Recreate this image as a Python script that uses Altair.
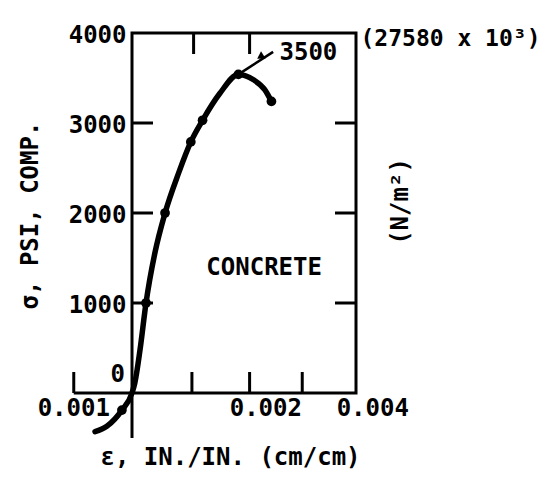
import altair as alt
import pandas as pd

# ---------------- data ----------------
curve_strain = [-0.66, -0.45, -0.18, 0.0, 0.05, 0.143, 0.25, 0.41, 0.59, 0.83, 1.05, 1.26, 1.57, 1.9, 2.17, 2.37, 2.49]
curve_stress = [-430, -370, -190, 0, 110, 478, 1000, 1560, 2000, 2440, 2790, 3030, 3330, 3540, 3480, 3370, 3240]

dot_strain = [-0.18, 0.25, 0.59, 1.05, 1.26, 1.9, 2.49]
dot_stress = [-190, 1000, 2000, 2790, 3030, 3540, 3240]

leader_strain = [1.9, 2.52]
leader_stress = [3540, 3790]
arrow_strain = [2.29]
arrow_stress = [3735]

y_label_values = [1000, 2000, 3000, 4000]
y_tick_values = [1000, 2000, 3000]
right_label_value = [4000]
right_label_text = "(27580 x 10³)"

x_tick_bottom = [-1.04, 1.07, 2.1, 3.04]
x_tick_top = [1.1, 2.1]
x_label_pos = [-1.04, 2.39, 4.3]
x_label_text = ["0.001", "0.002", "0.004"]
zero_label = ["0"]

y_axis_lowest = -500

concrete_text = ["CONCRETE"]
concrete_strain = [2.36]
concrete_stress = [1390]

peak_text = ["3500"]
peak_text_strain = [3.15]
peak_text_stress = [3780]

# ---------------- layout / style ----------------
X_MIN, X_MAX = 0, 4
Y_MIN, Y_MAX = 0, 4000
W, H = 224, 360
TICK_PX = 21
FONT = "DejaVu Sans Mono"
FS = 24
INK = "black"

du = TICK_PX * (X_MAX - X_MIN) / W
dv = TICK_PX * (Y_MAX - Y_MIN) / H

xs = alt.Scale(domain=[X_MIN, X_MAX], nice=False, zero=False)
ys = alt.Scale(domain=[Y_MIN, Y_MAX], nice=False, zero=False)

x_axis = alt.Axis(orient="bottom", labels=False, ticks=False, domain=False, grid=False,
                  title="ε, IN./IN. (cm/cm)", titleFont=FONT, titleFontSize=FS,
                  titleFontWeight="bold", titleColor=INK, titleX=98, titleY=64,
                  titleAlign="center", titleBaseline="middle", titleLimit=600)

y_axis_left = alt.Axis(orient="left", values=y_label_values, format="d", domain=False,
                       ticks=False, grid=False, labelFont=FONT, labelFontSize=FS,
                       labelFontWeight="bold", labelColor=INK, labelPadding=6,
                       labelFlush=False, labelOffset=2, labelBaseline="middle", labelLimit=400,
                       title="σ, PSI, COMP.", titleFont=FONT, titleFontSize=FS,
                       titleFontWeight="bold", titleColor=INK, titleX=-102, titleY=182,
                       titleAngle=270, titleAlign="center", titleBaseline="middle",
                       titleLimit=600)

y_axis_right = alt.Axis(orient="right", values=right_label_value,
                        labelExpr="'" + right_label_text + "'", domain=False, ticks=False,
                        grid=False, labelFont=FONT, labelFontSize=23, labelFontWeight="bold",
                        labelColor=INK, labelPadding=4, labelFlush=False, labelOffset=5,
                        labelAlign="left", labelBaseline="middle", labelLimit=600,
                        title="(N/m²)", titleFont=FONT, titleFontSize=FS,
                        titleFontWeight="bold", titleColor=INK, titleX=44, titleY=168,
                        titleAngle=270, titleAlign="center", titleBaseline="middle",
                        titleLimit=600)


def X(field):
    return alt.X(field, type="quantitative", scale=xs, axis=x_axis)


def Y(field, axis=None):
    return alt.Y(field, type="quantitative", scale=ys, axis=axis)


# ---------------- frame extensions and inward ticks ----------------
seg = {"x1": [], "x2": [], "y1": [], "y2": []}


def add(a, b, c, d):
    seg["x1"].append(a); seg["x2"].append(b); seg["y1"].append(c); seg["y2"].append(d)


add(x_tick_bottom[0], 0, 0, 0)              # x axis running left of the y axis
add(0, 0, 0, y_axis_lowest)                 # y axis running below the x axis
for u in x_tick_bottom:
    add(u, u, 0, dv)
for u in x_tick_top:
    add(u, u, Y_MAX, Y_MAX - dv)
for v in y_tick_values:
    add(0, du, v, v)
    add(X_MAX - du, X_MAX, v, v)
seg_df = pd.DataFrame(seg)

rules = alt.Chart(seg_df).mark_rule(color=INK, strokeWidth=3).encode(
    x=X("x1"), x2="x2", y=Y("y1"), y2="y2")

curve_df = pd.DataFrame({"e": curve_strain, "s": curve_stress})
curve = alt.Chart(curve_df).mark_line(color=INK, strokeWidth=5.5, interpolate="monotone",
                                      strokeCap="round").encode(
    x=X("e"), y=Y("s", y_axis_left), order=alt.Order("e:Q"))

dot_df = pd.DataFrame({"e": dot_strain, "s": dot_stress})
dots = alt.Chart(dot_df).mark_circle(color=INK, size=95, opacity=1).encode(
    x=X("e"), y=Y("s", y_axis_right))

leader_df = pd.DataFrame({"e": leader_strain, "s": leader_stress})
leader = alt.Chart(leader_df).mark_line(color=INK, strokeWidth=2.5).encode(
    x=X("e"), y=Y("s"))

arrow_df = pd.DataFrame({"e": arrow_strain, "s": arrow_stress})
arrow = alt.Chart(arrow_df).mark_point(shape="triangle-left", filled=True, color=INK,
                                       size=70, opacity=1, angle=327).encode(
    x=X("e"), y=Y("s"))

xlab_df = pd.DataFrame({"e": x_label_pos, "s": [0] * len(x_label_pos), "t": x_label_text})
xlabels = alt.Chart(xlab_df).mark_text(font=FONT, fontSize=FS, fontWeight="bold", color=INK,
                                       align="center", baseline="middle", dy=16).encode(
    x=X("e"), y=Y("s"), text="t:N")

zero_df = pd.DataFrame({"e": [0], "s": [0], "t": zero_label})
zero = alt.Chart(zero_df).mark_text(font=FONT, fontSize=FS, fontWeight="bold", color=INK,
                                    align="right", baseline="middle", dx=-7, dy=-18).encode(
    x=X("e"), y=Y("s"), text="t:N")

conc_df = pd.DataFrame({"e": concrete_strain, "s": concrete_stress, "t": concrete_text})
conc = alt.Chart(conc_df).mark_text(font=FONT, fontSize=FS, fontWeight="bold", color=INK,
                                    align="center", baseline="middle").encode(
    x=X("e"), y=Y("s"), text="t:N")

peak_df = pd.DataFrame({"e": peak_text_strain, "s": peak_text_stress, "t": peak_text})
peak = alt.Chart(peak_df).mark_text(font=FONT, fontSize=FS, fontWeight="bold", color=INK,
                                    align="center", baseline="middle").encode(
    x=X("e"), y=Y("s"), text="t:N")

chart = alt.layer(curve, dots, rules, leader, arrow, xlabels, zero, conc, peak).resolve_axis(
    y="independent"
).properties(
    width=W, height=H,
    autosize=alt.AutoSizeParams(type="none"),
    padding={"left": 124, "top": 25, "right": 190, "bottom": 80},
    background="white",
).configure_view(stroke=INK, strokeWidth=3).configure_axis(grid=False)

chart.save("out.html", embed_options={"renderer": "svg", "actions": False})
